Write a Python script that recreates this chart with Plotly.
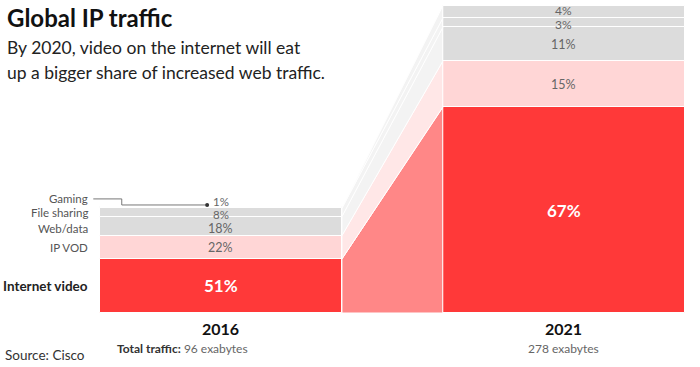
import plotly.graph_objects as go

# ---- data ----
categories = ["Internet video", "IP VOD", "Web/data", "File sharing", "Gaming"]
years = ["2016", "2021"]
totals_eb = [96, 278]
share_2016 = [51, 22, 18, 8, 1]
share_2021 = [67, 15, 11, 3, 4]
total_labels = ["Total traffic: 96 exabytes", "278 exabytes"]

# ---- styles ----
bar_colors = ["#ff3939", "#ffd6d6", "#dcdcdc", "#dcdcdc", "#dcdcdc"]
link_colors = ["#ff8787", "#ffe7e7", "#f3f3f3", "#f3f3f3", "#f3f3f3"]
text_colors = ["#ffffff", "#666666", "#666666", "#666666", "#666666"]
FONT = "Lato"
W = 0.706  # bar width in x units
xpos = [0, 1]

shares = [share_2016, share_2021]
vals = [[t * s / 100 for s in sh] for t, sh in zip(totals_eb, shares)]

def cum(v):
    out, c = [], 0
    for a in v:
        out.append(c)
        c += a
    return out

bases = [cum(v) for v in vals]

fig = go.Figure()

# connecting bands
xl, xr = xpos[0] + W / 2, xpos[1] - W / 2
for i, cat in enumerate(categories):
    b0, b1 = bases[0][i], bases[1][i]
    t0, t1 = b0 + vals[0][i], b1 + vals[1][i]
    fig.add_trace(go.Scatter(
        x=[xl, xr, xr, xl, xl], y=[b0, b1, t1, t0, b0],
        mode="lines", fill="toself", fillcolor=link_colors[i],
        line=dict(color="#ffffff", width=1), hoverinfo="skip", showlegend=False))

# bars
for i, cat in enumerate(categories):
    fig.add_trace(go.Bar(
        x=xpos, y=[vals[0][i], vals[1][i]], base=[bases[0][i], bases[1][i]],
        width=W, marker=dict(color=bar_colors[i], line=dict(color="#ffffff", width=1)),
        name=cat, showlegend=False, hoverinfo="skip"))

# small-label nudges (in y units) to keep tight labels apart
nudges = {(0, "Gaming"): 5.0, (0, "File sharing"): -2.0, (0, "Web/data"): -2.6,
          (1, "Gaming"): 1.4, (1, "File sharing"): -1.4}

ann = []
# percentage labels
for j in range(2):
    for i, cat in enumerate(categories):
        mid = bases[j][i] + vals[j][i] / 2
        big = i == 0
        small = cat in ("Gaming", "File sharing")
        y = mid + nudges.get((j, cat), 0)
        if j == 0 and cat == "Gaming":
            y = bases[j][i] + vals[j][i] + nudges[(j, cat)]
        if big:
            size = 17
        elif small:
            size = 11.5 if j == 0 else 12
        else:
            size = 12.5
        ann.append(dict(
            x=xpos[j], y=y, xref="x", yref="y",
            text=(f"<b>{shares[j][i]}%</b>" if big else f"{shares[j][i]}%"),
            showarrow=False,
            font=dict(family=FONT, size=size, color=text_colors[i])))

# category labels (left)
for i, cat in enumerate(categories):
    mid = bases[0][i] + vals[0][i] / 2
    y = mid + (nudges.get((0, cat), 0) if cat == "Web/data" else 0)
    if cat == "Gaming":
        y = totals_eb[0] + 7.3
    txt = f"<b>{cat}</b>" if i == 0 else cat
    ann.append(dict(
        x=-0.383, y=y, xref="x", yref="y", text=txt, xanchor="right", showarrow=False,
        font=dict(family=FONT, size=13.5 if i == 0 else 11.5,
                  color="#222222" if i == 0 else "#555555")))

# gaming leader line
gy_label = totals_eb[0] + 7.3
gy_end = totals_eb[0] + 1.8
fig.add_trace(go.Scatter(
    x=[-0.372, -0.289, -0.289, -0.04], y=[gy_label, gy_label, gy_end, gy_end],
    mode="lines", line=dict(color="#777777", width=1), hoverinfo="skip", showlegend=False))
fig.add_trace(go.Scatter(
    x=[-0.04], y=[gy_end], mode="markers", marker=dict(color="#333333", size=4),
    hoverinfo="skip", showlegend=False))

# year labels and totals
for j in range(2):
    ann.append(dict(x=xpos[j], y=-13.6, xref="x", yref="y", text=f"<b>{years[j]}</b>",
                    showarrow=False, font=dict(family=FONT, size=16, color="#111111")))
ann.append(dict(x=-0.31, y=-32, xref="x", yref="y", xanchor="left",
                text="<b>Total traffic:</b> <span style='color:#666666'>96 exabytes</span>",
                showarrow=False, font=dict(family=FONT, size=12, color="#333333")))
ann.append(dict(x=xpos[1], y=-32, xref="x", yref="y", text=total_labels[1],
                showarrow=False, font=dict(family=FONT, size=12, color="#666666")))

# title, subtitle, source
ann.append(dict(x=5 / 700, y=1 - 17 / 367, xref="paper", yref="paper", xanchor="left", yanchor="middle",
                text="<b>Global IP traffic</b>", showarrow=False,
                font=dict(family=FONT, size=24, color="#111111")))
ann.append(dict(x=5 / 700, y=1 - 48 / 367, xref="paper", yref="paper", xanchor="left", yanchor="middle",
                text="By 2020, video on the internet will eat", showarrow=False,
                font=dict(family=FONT, size=17.5, color="#222222")))
ann.append(dict(x=5 / 700, y=1 - 73 / 367, xref="paper", yref="paper", xanchor="left", yanchor="middle",
                text="up a bigger share of increased web traffic.", showarrow=False,
                font=dict(family=FONT, size=17.5, color="#222222")))
ann.append(dict(x=3 / 700, y=1 - 355 / 367, xref="paper", yref="paper", xanchor="left", yanchor="middle",
                text="Source: Cisco", showarrow=False,
                font=dict(family=FONT, size=13.5, color="#333333")))

fig.update_layout(
    width=700, height=367, margin=dict(l=0, r=0, t=0, b=0),
    paper_bgcolor="#ffffff", plot_bgcolor="#ffffff",
    barmode="overlay", bargap=0,
    xaxis=dict(range=[-0.644, 1.397], visible=False, fixedrange=True),
    yaxis=dict(range=[-48.9, 283.4], visible=False, fixedrange=True),
    annotations=ann,
)

fig.write_html("out.html", config={"displayModeBar": False},
               post_script="document.body.style.margin='0px';document.body.style.overflow='hidden';")
